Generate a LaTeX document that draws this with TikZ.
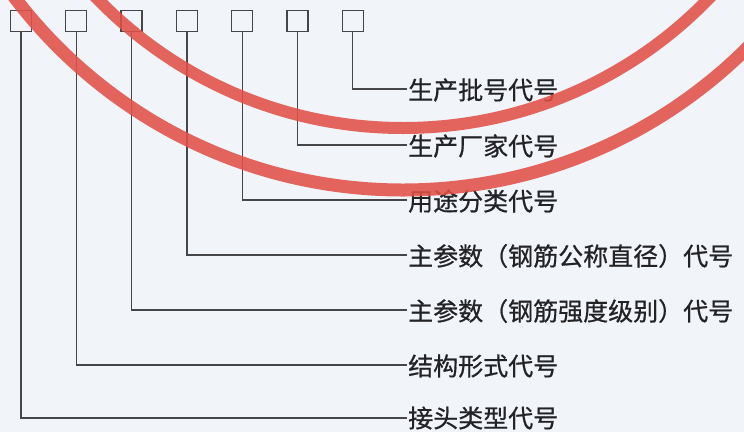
\documentclass[tikz,border=0pt]{standalone}
\usepackage{fontspec}
\newfontfamily\cjk[FakeBold=0.7]{Noto Sans CJK SC}
\definecolor{bgc}{RGB}{241,244,249}
\definecolor{linec}{RGB}{70,70,72}
\definecolor{txtc}{RGB}{35,35,38}
\definecolor{sealred}{RGB}{226,80,72}
\tikzset{
  sq/.style={draw=linec, line width=1.3pt, minimum size=21pt, inner sep=0pt, fill=bgc},
  lbl/.style={anchor=west, inner sep=1pt, font=\cjk\fontsize{25}{27}\selectfont, text=txtc},
  leader/.style={draw=linec, line width=1.3pt},
  sealarc/.style={draw=sealred, opacity=0.88}
}
\begin{document}
\begin{tikzpicture}[x=1pt,y=-1pt]
\fill[bgc] (0,0) rectangle (744,432);
\useasboundingbox (0,0) rectangle (744,432);
% code boxes
\foreach \i in {1,...,7}{
  \node[sq] (s\i) at ({21+55.3*(\i-1)},21) {};
}
% labels
\node[lbl] (t7) at (407,90) {生产批号代号};
\node[lbl] (t6) at (407,146) {生产厂家代号};
\node[lbl] (t5) at (407,201) {用途分类代号};
\node[lbl] (t4) at (407,256) {主参数（钢筋公称直径）代号};
\node[lbl] (t3) at (407,311) {主参数（钢筋强度级别）代号};
\node[lbl] (t2) at (407,366) {结构形式代号};
\node[lbl] (t1) at (407,418) {接头类型代号};
% leaders
\foreach \i/\yy in {7/89,6/145,5/200,4/255,3/310,2/365,1/418}{
  \coordinate (c\i) at (s\i.south |- 0,\yy);
  \draw[leader] (s\i.south) -- (c\i) -- (c\i -| t\i.west);
}
% seal arcs
\begin{scope}
\clip (0,0) rectangle (744,432);
\draw[sealarc, line width=13pt] (403,-298) circle[radius=488pt];
\draw[sealarc, line width=12pt] (403,-298) circle[radius=426pt];
\end{scope}
\end{tikzpicture}
\end{document}
